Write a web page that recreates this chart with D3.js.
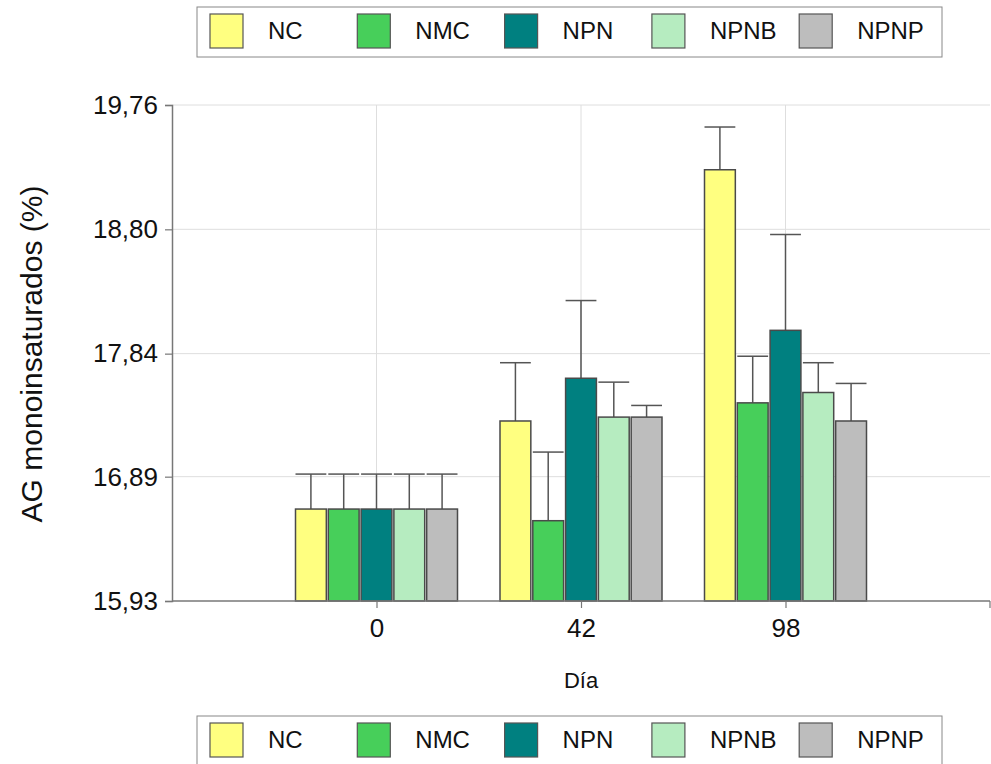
<!DOCTYPE html>
<html>
<head>
<meta charset="utf-8">
<script src="https://cdn.jsdelivr.net/npm/d3@7"></script>
<style>
  html, body { margin: 0; padding: 0; background: #fff; }
  svg { display: block; font-family: "Liberation Sans", Arial, sans-serif; }
</style>
</head>
<body>
<svg id="chart" width="991" height="764"></svg>
<script>
// Days sampled and treatments
const days = ["0", "42", "98"];
const series = ["NC", "NMC", "NPN", "NPNB", "NPNP"];
const colors = ["#ffff80", "#47cf5a", "#008080", "#b6ecc0", "#bdbdbd"];

// Mean monounsaturated fatty acids (%) per treatment, one entry per day
const NC   = [16.64, 17.32, 19.26];
const NMC  = [16.64, 16.55, 17.46];
const NPN  = [16.64, 17.65, 18.02];
const NPNB = [16.64, 17.35, 17.54];
const NPNP = [16.64, 17.35, 17.32];

// Upper error (mean + SD)
const NC_err   = [16.91, 17.77, 19.59];
const NMC_err  = [16.91, 17.08, 17.82];
const NPN_err  = [16.91, 18.25, 18.76];
const NPNB_err = [16.91, 17.62, 17.77];
const NPNP_err = [16.91, 17.44, 17.61];

const yTicks = [15.93, 16.89, 17.84, 18.80, 19.76];

const means = [NC, NMC, NPN, NPNB, NPNP];
const uppers = [NC_err, NMC_err, NPN_err, NPNB_err, NPNP_err];

const svg = d3.select("#chart");
const plotLeft = 172, plotRight = 990, plotTop = 105, plotBottom = 601;

const y = d3.scaleLinear().domain([15.93, 19.76]).range([plotBottom, plotTop]);
const x = d3.scalePoint().domain(days).range([plotLeft, plotRight]).padding(1);
const groupW = 162;
const xs = d3.scaleBand().domain(series).range([-groupW / 2, groupW / 2]).paddingInner(0.06);

const axisColor = "#777";
const font = "'Liberation Sans', Arial, sans-serif";

// Grid
const grid = svg.append("g");
grid.selectAll("line.h").data(yTicks.slice(1)).join("line")
  .attr("x1", plotLeft).attr("x2", plotRight)
  .attr("y1", d => y(d)).attr("y2", d => y(d))
  .attr("stroke", "#dedede").attr("stroke-width", 1);
grid.selectAll("line.v").data(days).join("line")
  .attr("x1", d => x(d)).attr("x2", d => x(d))
  .attr("y1", plotTop).attr("y2", plotBottom)
  .attr("stroke", "#dedede").attr("stroke-width", 1);

// Bars and error bars
const rows = [];
series.forEach((s, si) => days.forEach((d, di) => {
  rows.push({ s, si, d, v: means[si][di], u: uppers[si][di] });
}));

const barG = svg.append("g");
barG.selectAll("line.err").data(rows).join("line")
  .attr("x1", r => x(r.d) + xs(r.s) + xs.bandwidth() / 2)
  .attr("x2", r => x(r.d) + xs(r.s) + xs.bandwidth() / 2)
  .attr("y1", r => y(r.v)).attr("y2", r => y(r.u))
  .attr("stroke", "#555").attr("stroke-width", 1.5);
barG.selectAll("line.cap").data(rows).join("line")
  .attr("x1", r => x(r.d) + xs(r.s))
  .attr("x2", r => x(r.d) + xs(r.s) + xs.bandwidth())
  .attr("y1", r => y(r.u)).attr("y2", r => y(r.u))
  .attr("stroke", "#555").attr("stroke-width", 1.5);
barG.selectAll("rect").data(rows).join("rect")
  .attr("x", r => x(r.d) + xs(r.s))
  .attr("width", xs.bandwidth())
  .attr("y", r => y(r.v))
  .attr("height", r => plotBottom - y(r.v))
  .attr("fill", r => colors[r.si])
  .attr("stroke", "#4a4a4a").attr("stroke-width", 1.5);

// Y axis
const yAxis = svg.append("g").attr("transform", `translate(${plotLeft},0)`)
  .call(d3.axisLeft(y).tickValues(yTicks).tickSize(7).tickPadding(7)
    .tickFormat(d => d3.format(".2f")(d).replace(".", ",")));
yAxis.select(".domain").attr("stroke", axisColor).attr("stroke-width", 1.5);
yAxis.selectAll(".tick line").attr("stroke", axisColor).attr("stroke-width", 1.2);
yAxis.selectAll(".tick text").attr("font-size", 26).attr("fill", "#111")
  .attr("font-family", font);

// X axis
svg.append("line").attr("x1", plotLeft).attr("x2", plotRight)
  .attr("y1", plotBottom).attr("y2", plotBottom)
  .attr("stroke", axisColor).attr("stroke-width", 1.5);
const xAxis = svg.append("g").attr("transform", `translate(0,${plotBottom})`)
  .call(d3.axisBottom(x).tickSize(7).tickPadding(11));
xAxis.select(".domain").remove();
xAxis.selectAll(".tick line").attr("stroke", axisColor).attr("stroke-width", 1.2);
xAxis.selectAll(".tick text").attr("font-size", 26).attr("fill", "#111")
  .attr("font-family", font);
svg.append("line").attr("x1", plotRight).attr("x2", plotRight)
  .attr("y1", plotBottom).attr("y2", plotBottom + 7)
  .attr("stroke", axisColor).attr("stroke-width", 1.2);

// Axis titles
svg.append("text")
  .attr("x", x("42")).attr("y", 688)
  .attr("text-anchor", "middle").attr("font-size", 22).attr("fill", "#111")
  .text("Día");
svg.append("text")
  .attr("transform", `translate(42,354) rotate(-90)`)
  .attr("text-anchor", "middle").attr("font-size", 30).attr("fill", "#111")
  .text("AG monoinsaturados (%)");

// Legends (top and bottom)
function legend(yTop, h) {
  const g = svg.append("g").attr("transform", `translate(197,${yTop})`);
  g.append("rect").attr("x", 0).attr("y", 0).attr("width", 745).attr("height", h)
    .attr("fill", "#fff").attr("stroke", "#888").attr("stroke-width", 1);
  const item = g.selectAll("g.item").data(series).join("g")
    .attr("transform", (d, i) => `translate(${13 + i * 147.3},7)`);
  item.append("rect").attr("width", 33).attr("height", 34)
    .attr("fill", (d, i) => colors[i]).attr("stroke", "#555").attr("stroke-width", 1.2);
  item.append("text").attr("x", 58).attr("y", 25)
    .attr("font-size", 24).attr("fill", "#111").text(d => d);
}
legend(7, 50);
legend(716, 49);
</script>
</body>
</html>
